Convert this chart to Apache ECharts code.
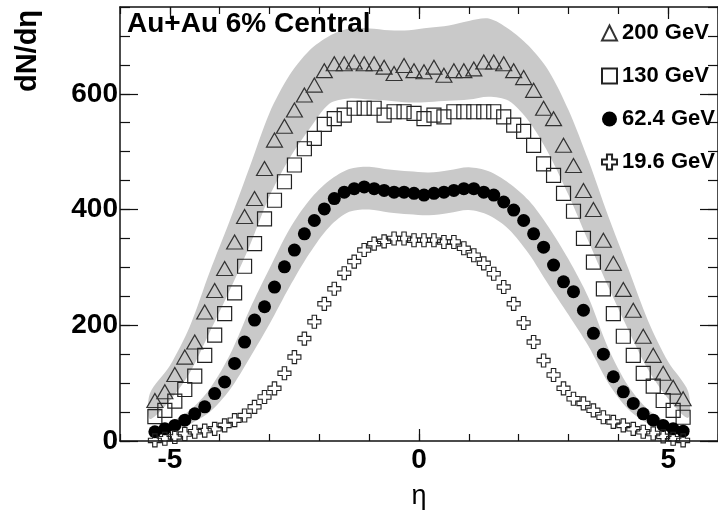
<!DOCTYPE html>
<html>
<head>
<meta charset="utf-8">
<script src="https://cdn.jsdelivr.net/npm/echarts@6/dist/echarts.min.js"></script>
<style>
html,body{margin:0;padding:0;background:#fff;}
#chart{width:718px;height:515px;}
</style>
</head>
<body>
<div id="chart"></div>
<script>
// ---- data ----
const eta = [-5.3,-5.1,-4.9,-4.7,-4.5,-4.3,-4.1,-3.9,-3.7,-3.5,-3.3,-3.1,-2.9,-2.7,-2.5,-2.3,-2.1,-1.9,-1.7,-1.5,-1.3,-1.1,-0.9,-0.7,-0.5,-0.3,-0.1,0.1,0.3,0.5,0.7,0.9,1.1,1.3,1.5,1.7,1.9,2.1,2.3,2.5,2.7,2.9,3.1,3.3,3.5,3.7,3.9,4.1,4.3,4.5,4.7,4.9,5.1,5.3];
const gev200 = [70,85,115,145,171,223,260,298,344,388,419,471,520,544,572,598,615,640,652,652,655,652,652,646,635,649,640,638,646,632,640,640,643,655,655,652,640,628,606,575,557,511,476,433,400,347,307,262,226,181,148,117,93,73];
const gev130 = [42,53,69,89,112,148,183,220,256,302,341,384,416,448,477,505,523,547,557,563,575,575,575,563,569,569,566,557,563,560,569,569,569,569,569,560,546,535,511,479,459,428,397,350,309,263,220,181,148,117,95,70,53,41];
const gev62 = [16,21,27,36,47,59,82,102,134,171,209,232,266,301,330,358,381,401,419,430,436,439,436,433,430,430,428,425,428,430,433,436,436,430,425,413,399,381,358,335,304,275,258,226,186,150,111,85,65,47,36,27,21,17];
const gev19 = [1,4,7,12,16,18,21,27,36,44,59,76,91,117,145,177,206,237,263,290,310,330,341,345,350,350,347,347,347,344,344,333,321,307,289,266,237,204,171,139,114,91,73,65,53,41,33,27,21,16,13,8,4,1];

// systematic bands (edges)
const bandEta = [-5.4,-5.0,-4.6,-4.2,-3.8,-3.4,-3.0,-2.6,-2.2,-1.8,-1.4,-1.0,-0.6,-0.2,0.2,0.6,1.0,1.4,1.8,2.2,2.6,3.0,3.4,3.8,4.2,4.6,5.0,5.4];
const band200Hi = [82,130,198,292,380,473,567,632,675,700,713,713,710,710,714,718,726,730,712,683,640,572,485,388,298,207,137,86];
const band200Lo = [38,70,118,188,260,337,423,488,539,583,592,590,588,585,586,588,590,595,588,553,497,425,345,266,192,123,73,40];
const band62Hi = [19,32,53,90,148,227,298,366,416,450,470,474,469,466,464,468,473,466,446,416,370,314,248,160,95,54,32,20];
const band62Lo = [9,16,29,50,88,143,202,266,324,370,396,400,395,392,390,394,399,390,366,324,270,218,164,100,55,30,16,10];

const xTickLabels = [-5, 0, 5];
const yTickLabels = [0, 200, 400, 600];
const seriesNames = ['200 GeV', '130 GeV', '62.4 GeV', '19.6 GeV'];
const titleText = 'Au+Au 6% Central';
const yTitle = 'dN/dη';
const xTitle = 'η';

// ---- chart ----
const FONT = 'Liberation Sans, Arial, Helvetica, sans-serif';
const AX = '#111';
const pairs = vals => eta.map((e, i) => [e, vals[i]]);
const crossPath = 'path://M3.3,0 L6.7,0 L6.7,3.3 L10,3.3 L10,6.7 L6.7,6.7 L6.7,10 L3.3,10 L3.3,6.7 L0,6.7 L0,3.3 L3.3,3.3 Z';

function bandRender(hi, lo) {
  return function (params, api) {
    const pts = [];
    for (let i = 0; i < bandEta.length; i++) pts.push(api.coord([bandEta[i], hi[i]]));
    for (let i = bandEta.length - 1; i >= 0; i--) pts.push(api.coord([bandEta[i], lo[i]]));
    return { type: 'polygon', shape: { points: pts, smooth: 0.3 }, style: { fill: '#c9c9c9' } };
  };
}

const xBase = { type: 'value', min: -6, max: 6, splitLine: { show: false } };
const yBase = { type: 'value', min: 0, max: 750, splitLine: { show: false } };

const option = {
  animation: false,
  backgroundColor: '#fff',
  grid: { left: 120, right: -4, top: 7, bottom: 74 },
  xAxis: [
    Object.assign({}, xBase, {
      position: 'bottom', interval: 1,
      axisLine: { onZero: false, lineStyle: { color: AX, width: 1.5 } },
      axisTick: { inside: true, length: 7, lineStyle: { color: AX, width: 1.2 } },
      axisLabel: { customValues: xTickLabels, margin: 5, color: '#000', fontSize: 28, fontWeight: 'bold', fontFamily: FONT },
      name: xTitle, nameLocation: 'middle', nameGap: 42,
      nameTextStyle: { fontSize: 27, color: '#000', fontFamily: FONT }
    }),
    Object.assign({}, xBase, {
      position: 'bottom',
      axisLine: { show: false, onZero: false },
      axisTick: { inside: true, length: 12, customValues: xTickLabels, lineStyle: { color: AX, width: 1.2 } },
      axisLabel: { show: false }
    }),
    Object.assign({}, xBase, {
      position: 'top', interval: 1,
      axisLine: { onZero: false, lineStyle: { color: AX, width: 1.5 } },
      axisTick: { inside: true, length: 7, lineStyle: { color: AX, width: 1.2 } },
      axisLabel: { show: false }
    }),
    Object.assign({}, xBase, {
      position: 'top',
      axisLine: { show: false, onZero: false },
      axisTick: { inside: true, length: 12, customValues: xTickLabels, lineStyle: { color: AX, width: 1.2 } },
      axisLabel: { show: false }
    })
  ],
  yAxis: [
    Object.assign({}, yBase, {
      position: 'left', interval: 50,
      axisLine: { onZero: false, lineStyle: { color: AX, width: 1.5 } },
      axisTick: { inside: true, length: 10, lineStyle: { color: AX, width: 1.2 } },
      axisLabel: { customValues: yTickLabels, margin: 2, padding: [6, 0, 0, 0], color: '#000', fontSize: 28, fontWeight: 'bold', fontFamily: FONT }
    }),
    Object.assign({}, yBase, {
      position: 'left',
      axisLine: { show: false, onZero: false },
      axisTick: { inside: true, length: 18, customValues: yTickLabels, lineStyle: { color: AX, width: 1.2 } },
      axisLabel: { show: false }
    }),
    Object.assign({}, yBase, {
      position: 'right', interval: 50,
      axisLine: { onZero: false, lineStyle: { color: AX, width: 1.5 } },
      axisTick: { inside: true, length: 10, lineStyle: { color: AX, width: 1.2 } },
      axisLabel: { show: false }
    }),
    Object.assign({}, yBase, {
      position: 'right',
      axisLine: { show: false, onZero: false },
      axisTick: { inside: true, length: 18, customValues: yTickLabels, lineStyle: { color: AX, width: 1.2 } },
      axisLabel: { show: false }
    })
  ],
  legend: {
    data: seriesNames,
    orient: 'vertical', left: 601, top: 22,
    itemWidth: 15, itemHeight: 15, itemGap: 21, padding: 0,
    selectedMode: false,
    textStyle: { color: '#000', fontSize: 22, fontWeight: 'bold', fontFamily: FONT }
  },
  graphic: [
    { type: 'text', x: 127, y: 24, z: 100,
      style: { text: titleText, fill: '#000', font: 'bold 28px ' + FONT, verticalAlign: 'middle', align: 'left' } },
    { type: 'text', x: 28, y: 51, rotation: Math.PI / 2, z: 100,
      style: { text: yTitle, fill: '#000', font: 'bold 29px ' + FONT, verticalAlign: 'middle', align: 'center' } }
  ],
  series: [
    { type: 'custom', name: 'band200', silent: true, z: 1, data: [[0, 0]], renderItem: bandRender(band200Hi, band200Lo) },
    { type: 'custom', name: 'band62', silent: true, z: 1, data: [[0, 0]], renderItem: bandRender(band62Hi, band62Lo) },
    { type: 'scatter', name: seriesNames[0], z: 3, symbol: 'triangle', symbolSize: [16, 14], data: pairs(gev200),
      itemStyle: { color: 'rgba(0,0,0,0)', borderColor: '#333', borderWidth: 1.2, opacity: 1 } },
    { type: 'scatter', name: seriesNames[1], z: 3, symbol: 'rect', symbolSize: 14, data: pairs(gev130),
      itemStyle: { color: 'rgba(0,0,0,0)', borderColor: '#222', borderWidth: 1.2, opacity: 1 } },
    { type: 'scatter', name: seriesNames[2], z: 3, symbol: 'circle', symbolSize: 13, data: pairs(gev62),
      itemStyle: { color: '#000', borderWidth: 0, opacity: 1 } },
    { type: 'scatter', name: seriesNames[3], z: 3, symbol: crossPath, symbolSize: 13, data: pairs(gev19),
      itemStyle: { color: 'rgba(0,0,0,0)', borderColor: '#222', borderWidth: 1.1, opacity: 1 } }
  ]
};

const chart = echarts.init(document.getElementById('chart'), null, { renderer: 'canvas' });
chart.setOption(option);
</script>
</body>
</html>
